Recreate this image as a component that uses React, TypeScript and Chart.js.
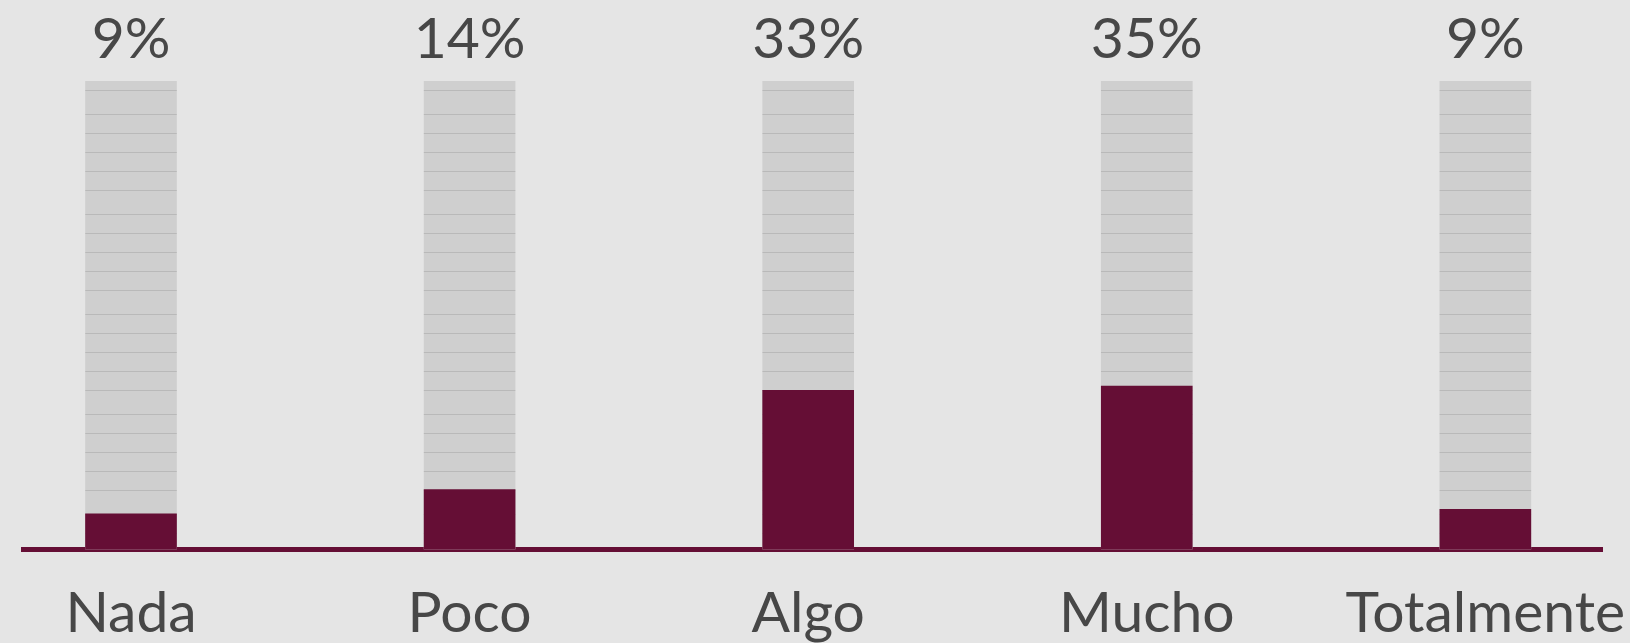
import React, { useEffect, useRef } from "react";
import { Chart, registerables } from "chart.js";

Chart.register(...registerables);

const categories = ["Nada", "Poco", "Algo", "Mucho", "Totalmente"];
const shares = [7.6, 12.8, 34.0, 34.9, 8.6];
const shareLabels = ["9%", "14%", "33%", "35%", "9%"];
const fullScale = [100, 100, 100, 100, 100];

const PURPLE = "#650e35";
const TEXT = "#474747";
const PAGE_BG = "#e5e5e5";
const FONT = "Lato, 'Noto Sans', sans-serif";
const FONT_SIZE = 57;

function makePattern(ctx: CanvasRenderingContext2D) {
  const c = document.createElement("canvas");
  c.width = 4;
  c.height = 100;
  const p = c.getContext("2d")!;
  p.fillStyle = "#cfcfcf";
  p.fillRect(0, 0, 4, 100);
  p.fillStyle = "#b9b9b9";
  [14, 33, 52, 71, 90].forEach((y) => p.fillRect(0, y, 4, 1));
  return ctx.createPattern(c, "repeat");
}

const topLabels = {
  id: "topLabels",
  afterDatasetsDraw(chart: any) {
    const meta = chart.getDatasetMeta(1);
    const ctx = chart.ctx;
    ctx.save();
    ctx.font = `${FONT_SIZE}px ${FONT}`;
    ctx.fillStyle = TEXT;
    ctx.textAlign = "center";
    ctx.textBaseline = "alphabetic";
    meta.data.forEach((el: any, i: number) => {
      ctx.fillText(shareLabels[i], el.x, el.y - 23);
    });
    ctx.restore();
  },
};

export default function App() {
  const ref = useRef<HTMLCanvasElement>(null);

  useEffect(() => {
    document.body.style.margin = "0";
    document.body.style.background = PAGE_BG;
    const canvas = ref.current!;
    const ctx = canvas.getContext("2d")!;
    const pattern = makePattern(ctx);
    const chart = new Chart(ctx, {
      type: "bar",
      data: {
        datasets: [
          {
            data: shares.map((v, i) => ({ x: i, y: v })),
            backgroundColor: PURPLE,
            borderWidth: 0,
            barThickness: 91,
            grouped: false,
            order: 0,
          },
          {
            data: fullScale.map((v, i) => ({ x: i, y: v })),
            backgroundColor: pattern as any,
            borderWidth: 0,
            barThickness: 91,
            grouped: false,
            order: 1,
          },
        ],
      } as any,
      options: {
        responsive: false,
        animation: false,
        devicePixelRatio: 1,
        layout: { padding: { left: 23, right: 27.5, top: 81, bottom: 0 } },
        plugins: {
          legend: { display: false },
          tooltip: { enabled: false },
          title: { display: false },
        },
        scales: {
          x: {
            type: "linear",
            offset: false,
            min: -0.319,
            max: 4.346,
            afterBuildTicks: (scale: any) => {
              scale.ticks = categories.map((_, i) => ({ value: i }));
            },
            afterFit: (scale: any) => {
              scale.height = 93.5;
              scale.paddingLeft = 0;
              scale.paddingRight = 0;
            },
            ticks: {
              callback: (v: any) => categories[v] ?? "",
              font: { family: FONT, size: FONT_SIZE },
              color: TEXT,
              padding: 30,
              autoSkip: false,
              maxRotation: 0,
              minRotation: 0,
            },
            grid: { display: false, drawTicks: false, tickLength: 0 },
            border: { display: true, color: PURPLE, width: 5 },
          },
          y: {
            min: 0,
            max: 100,
            display: false,
          },
        },
      } as any,
      plugins: [topLabels],
    });
    return () => chart.destroy();
  }, []);

  return (
    <div style={{ width: 1630, height: 643, background: PAGE_BG }}>
      <canvas ref={ref} width={1630} height={643} style={{ display: "block" }} />
    </div>
  );
}
